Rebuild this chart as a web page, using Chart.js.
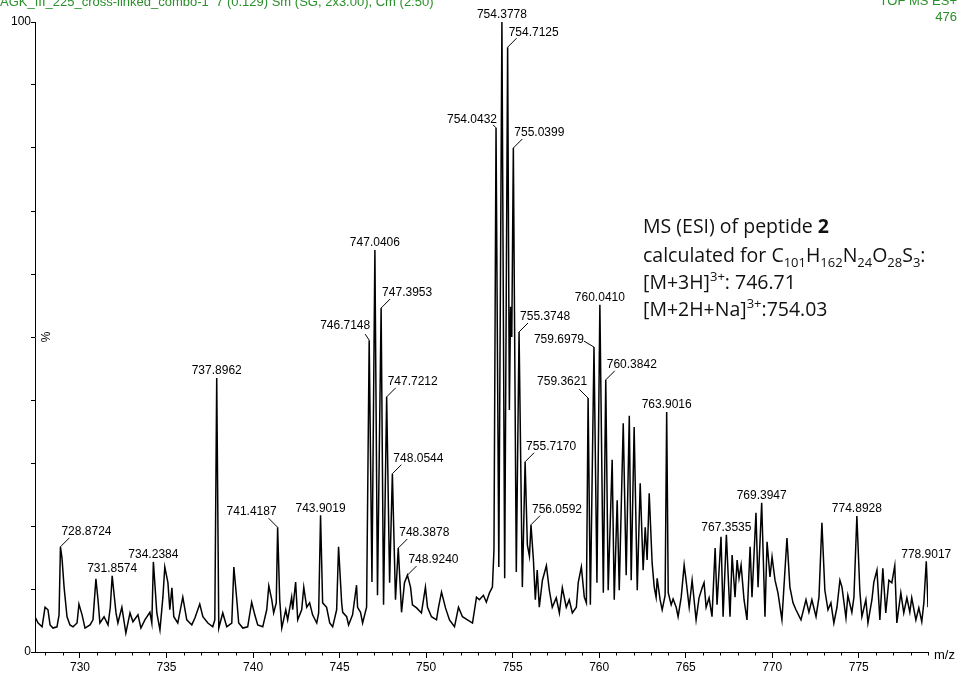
<!DOCTYPE html>
<html>
<head>
<meta charset="utf-8">
<script src="https://cdn.jsdelivr.net/npm/chart.js@4.4.1/dist/chart.umd.min.js"></script>
<style>
  body { margin: 0; background: #fff; }
  #wrap { position: relative; width: 961px; height: 673px; }
</style>
</head>
<body>
<div id="wrap"><canvas id="myChart" width="961" height="673"></canvas></div>
<script>
// spectrum (m/z, relative intensity %)
const mzValues = [
  727.40, 727.58, 727.81, 727.98, 728.15, 728.27, 728.44, 728.67, 728.79, 728.87,
  728.96, 729.08, 729.25, 729.42, 729.60, 729.83, 729.94, 730.12, 730.29, 730.58,
  730.75, 730.92, 731.04, 731.15, 731.39, 731.62, 731.75, 731.86, 732.08, 732.19,
  732.42, 732.65, 732.89, 733.06, 733.35, 733.52, 733.75, 734.04, 734.15, 734.24,
  734.44, 734.62, 734.79, 734.90, 735.08, 735.19, 735.31, 735.42, 735.65, 735.94,
  736.17, 736.46, 736.64, 736.92, 737.10, 737.39, 737.67, 737.79, 737.90, 738.02,
  738.25, 738.48, 738.77, 738.89, 739.06, 739.17, 739.41, 739.69, 739.92, 740.10,
  740.27, 740.56, 740.79, 740.91, 741.08, 741.19, 741.34, 741.42, 741.54, 741.66,
  741.89, 742.00, 742.23, 742.29, 742.46, 742.58, 742.81, 742.93, 743.10, 743.27,
  743.44, 743.68, 743.79, 743.90, 744.02, 744.25, 744.43, 744.60, 744.83, 744.94,
  745.12, 745.18, 745.41, 745.52, 745.75, 745.98, 746.04, 746.21, 746.33, 746.56,
  746.71, 746.87, 747.04, 747.19, 747.40, 747.54, 747.72, 747.89, 748.05, 748.23,
  748.39, 748.58, 748.75, 748.92, 749.10, 749.21, 749.45, 749.73, 749.96, 750.08,
  750.31, 750.60, 750.71, 750.89, 751.12, 751.35, 751.64, 751.87, 752.10, 752.39,
  752.68, 752.91, 753.08, 753.31, 753.48, 753.66, 753.83, 753.92, 754.04, 754.20,
  754.38, 754.54, 754.71, 754.81, 754.88, 754.95, 755.04, 755.21, 755.37, 755.56,
  755.72, 755.85, 755.97, 756.06, 756.20, 756.31, 756.42, 756.54, 756.72, 756.95,
  757.12, 757.29, 757.52, 757.70, 757.87, 758.10, 758.27, 758.45, 758.68, 758.79,
  758.97, 759.14, 759.26, 759.36, 759.49, 759.70, 759.87, 760.04, 760.24, 760.38,
  760.52, 760.75, 760.87, 761.04, 761.16, 761.39, 761.56, 761.74, 761.85, 762.02,
  762.20, 762.37, 762.54, 762.66, 762.77, 762.89, 763.06, 763.18, 763.29, 763.35,
  763.52, 763.64, 763.81, 763.90, 763.99, 764.16, 764.27, 764.45, 764.56, 764.74,
  764.91, 765.02, 765.20, 765.37, 765.60, 765.77, 765.95, 766.06, 766.18, 766.35,
  766.52, 766.70, 766.81, 767.04, 767.16, 767.35, 767.56, 767.68, 767.85, 767.97,
  768.08, 768.20, 768.37, 768.54, 768.72, 768.83, 769.06, 769.18, 769.39, 769.58,
  769.70, 769.87, 769.99, 770.16, 770.33, 770.56, 770.85, 771.02, 771.20, 771.37,
  771.66, 771.95, 772.12, 772.29, 772.53, 772.70, 772.87, 773.04, 773.22, 773.39,
  773.56, 773.74, 773.91, 774.03, 774.26, 774.37, 774.60, 774.72, 774.89, 775.06,
  775.18, 775.41, 775.53, 775.76, 775.87, 776.05, 776.22, 776.39, 776.56, 776.74,
  776.91, 777.08, 777.20, 777.43, 777.60, 777.78, 777.95, 778.06, 778.30, 778.47,
  778.64, 778.76, 778.90, 778.96, 779.00
];
const intensity = [
  5.6, 4.6, 4.0, 7.1, 6.7, 4.3, 3.8, 4.0, 5.9, 16.7,
  14.9, 10.3, 5.6, 4.3, 4.0, 4.6, 7.6, 5.9, 3.8, 4.3,
  5.1, 11.6, 8.3, 4.6, 5.6, 4.3, 7.1, 12.1, 6.2, 4.6,
  7.1, 3.0, 6.2, 4.8, 5.9, 3.8, 5.1, 6.3, 4.6, 14.3,
  6.2, 3.5, 8.7, 13.5, 11.0, 6.7, 10.2, 5.6, 4.6, 8.7,
  5.1, 4.3, 5.4, 7.6, 5.6, 4.6, 4.0, 5.1, 43.5, 3.8,
  6.2, 4.0, 4.6, 13.5, 8.3, 4.6, 3.8, 4.0, 7.9, 5.9,
  4.3, 4.0, 6.7, 10.5, 8.3, 6.2, 7.8, 19.8, 8.3, 3.8,
  6.7, 5.1, 8.7, 6.7, 11.1, 5.1, 6.7, 10.3, 7.1, 7.8,
  5.9, 4.6, 6.2, 21.7, 7.8, 7.1, 4.6, 4.0, 6.7, 16.7,
  7.8, 6.3, 5.6, 4.3, 5.9, 10.6, 7.1, 6.3, 4.6, 7.1,
  49.5, 11.1, 63.8, 9.0, 54.6, 7.5, 40.5, 11.0, 28.3, 8.3,
  16.5, 6.3, 11.0, 12.2, 10.3, 7.5, 7.0, 6.2, 10.3, 7.1,
  5.6, 5.1, 7.0, 9.5, 7.0, 5.1, 4.0, 7.1, 5.6, 5.1,
  4.6, 8.7, 8.3, 9.0, 7.9, 9.4, 10.3, 16.2, 83.2, 13.5,
  100, 11.7, 96.0, 38.4, 54.8, 50.0, 80.0, 12.7, 50.8, 10.3,
  30.2, 17.0, 15.2, 20.2, 14.6, 8.3, 13.0, 7.1, 11.4, 13.7,
  9.8, 7.1, 8.6, 6.2, 10.2, 7.1, 8.3, 6.2, 7.1, 11.0,
  13.5, 8.7, 7.8, 40.3, 7.5, 48.4, 11.0, 55.1, 9.4, 43.2,
  9.8, 30.5, 8.3, 24.1, 9.8, 36.3, 12.2, 37.5, 11.4, 35.7,
  9.8, 26.8, 13.0, 19.8, 14.6, 25.2, 14.1, 10.3, 8.7, 11.7,
  8.3, 6.7, 9.0, 38.1, 9.4, 7.5, 8.4, 7.1, 5.6, 8.7,
  13.8, 11.4, 7.1, 11.4, 5.1, 8.6, 10.2, 11.0, 7.1, 8.6,
  5.6, 16.5, 7.5, 18.3, 5.6, 18.6, 5.6, 15.4, 8.7, 14.6,
  11.7, 13.8, 8.3, 5.1, 16.7, 8.7, 22.1, 10.3, 23.7, 5.6,
  17.5, 11.9, 15.1, 11.4, 9.4, 5.1, 18.1, 10.3, 7.8, 6.7,
  5.1, 8.3, 6.3, 8.3, 5.6, 8.7, 20.5, 9.8, 6.7, 7.8,
  4.6, 7.1, 11.4, 10.3, 5.4, 9.0, 6.3, 8.7, 21.6, 9.8,
  5.6, 8.3, 4.6, 8.3, 11.1, 13.0, 5.1, 13.3, 6.2, 11.4,
  11.0, 13.7, 4.6, 9.4, 6.2, 8.6, 6.3, 8.6, 5.1, 7.0,
  4.8, 7.8, 14.4, 10.3, 7.1
];

const peakLabels = [
  "728.8724", "731.8574", "734.2384", "737.8962", "741.4187", "743.9019",
  "746.7148", "747.0406", "747.3953", "747.7212", "748.0544", "748.3878",
  "748.9240", "754.0432", "754.3778", "754.7125", "755.0399", "755.3748",
  "755.7170", "756.0592", "759.3621", "759.6979", "760.0410", "760.3842",
  "763.9016", "767.3535", "769.3947", "774.8928", "778.9017"
];
// where each label sits relative to its peak: c = above, r = up-right, l = up-left
const labelSide = [
  "r", "c", "c", "c", "l", "c",
  "l2", "c", "r", "r", "r", "r",
  "r", "l4", "c", "r", "r", "r",
  "r", "r", "l", "l3", "c", "r",
  "c", "c", "c", "c", "c"
];

const yTickLabels = [0, 100];
const xMin = 727.4, xMax = 779.0;

const points = mzValues.map((m, i) => ({ x: m, y: intensity[i] }));

const green = "#2a8f2a";
const labelFont = "12px 'Liberation Sans', Arial, sans-serif";

function findPeak(v) {
  let best = -1;
  for (let i = 0; i < mzValues.length; i++) {
    if (Math.abs(mzValues[i] - v) < 0.06) {
      if (best < 0 || intensity[i] > intensity[best]) best = i;
    }
  }
  return best;
}

function drawRich(ctx, x, y, parts) {
  const base = 19.5;
  for (const p of parts) {
    let size = base, dy = 0, weight = "normal";
    if (p.s === "sub") { size = 13; dy = 5; }
    if (p.s === "sup") { size = 13; dy = -8; }
    if (p.s === "b") { weight = "bold"; }
    ctx.font = weight + " " + size + "px 'Open Sans', 'Noto Sans', sans-serif";
    ctx.fillText(p.t, x, y + dy);
    x += ctx.measureText(p.t).width;
  }
}

const spectrumPlugin = {
  id: "spectrumExtras",
  afterDraw(chart) {
    const ctx = chart.ctx;
    const xs = chart.scales.x, ys = chart.scales.y;
    ctx.save();

    // minor ticks on m/z axis
    ctx.strokeStyle = "#000";
    ctx.lineWidth = 1;
    const yb = Math.round(ys.getPixelForValue(0)) + 0.5;
    for (let v = Math.ceil(xMin); v <= xMax; v++) {
      if (v % 5 === 0) continue;
      const px = Math.round(xs.getPixelForValue(v)) + 0.5;
      ctx.beginPath();
      ctx.moveTo(px, yb);
      ctx.lineTo(px, yb + 3);
      ctx.stroke();
    }

    // peak labels
    ctx.font = labelFont;
    ctx.fillStyle = "#000";
    ctx.textBaseline = "middle";
    peakLabels.forEach((lab, k) => {
      const i = findPeak(parseFloat(lab));
      if (i < 0) return;
      const px = xs.getPixelForValue(mzValues[i]);
      const py = ys.getPixelForValue(intensity[i]);
      const side = labelSide[k];
      ctx.beginPath();
      if (side === "c") {
        ctx.textAlign = "center";
        ctx.fillText(lab, px, py - 7);
      } else if (side === "r") {
        ctx.moveTo(px, py);
        ctx.lineTo(px + 9, py - 9);
        ctx.stroke();
        ctx.textAlign = "left";
        ctx.fillText(lab, px + 1, py - 15);
      } else if (side === "l") {
        ctx.moveTo(px, py);
        ctx.lineTo(px - 9, py - 9);
        ctx.stroke();
        ctx.textAlign = "right";
        ctx.fillText(lab, px - 1, py - 16);
      } else if (side === "l2") {
        ctx.moveTo(px, py);
        ctx.lineTo(px - 4, py - 6);
        ctx.stroke();
        ctx.textAlign = "right";
        ctx.fillText(lab, px + 1, py - 14);
      } else if (side === "l3") {
        ctx.moveTo(px, py);
        ctx.lineTo(px - 10, py - 6);
        ctx.stroke();
        ctx.textAlign = "right";
        ctx.fillText(lab, px - 10, py - 7);
      } else if (side === "l4") {
        ctx.moveTo(px, py);
        ctx.lineTo(px - 3, py - 3);
        ctx.stroke();
        ctx.textAlign = "right";
        ctx.fillText(lab, px + 1, py - 8);
      }
    });

    // axis captions
    ctx.textAlign = "center";
    ctx.save();
    ctx.translate(47, ys.getPixelForValue(50));
    ctx.rotate(-Math.PI / 2);
    ctx.fillText("%", 0, 0);
    ctx.restore();
    ctx.font = "13px 'Liberation Sans', Arial, sans-serif";
    ctx.textAlign = "left";
    ctx.fillText("m/z", 934, 655);

    // instrument header (cut off at the top like the original)
    ctx.fillStyle = green;
    ctx.font = "13px 'Liberation Sans', Arial, sans-serif";
    ctx.textBaseline = "alphabetic";
    ctx.fillText("AGK_III_225_cross-linked_combo-1  7 (0.129) Sm (SG, 2x3.00), Cm (2:50)", 0, 6);
    ctx.textAlign = "right";
    ctx.fillText("TOF MS ES+", 957, 5);
    ctx.fillText("476", 957, 21);

    // compound annotation
    ctx.fillStyle = "#111";
    ctx.textAlign = "left";
    drawRich(ctx, 643, 233, [{ t: "MS (ESI) of peptide " }, { t: "2", s: "b" }]);
    drawRich(ctx, 643, 262, [
      { t: "calculated for C" }, { t: "101", s: "sub" }, { t: "H" }, { t: "162", s: "sub" },
      { t: "N" }, { t: "24", s: "sub" }, { t: "O" }, { t: "28", s: "sub" },
      { t: "S" }, { t: "3", s: "sub" }, { t: ":" }
    ]);
    drawRich(ctx, 643, 289, [{ t: "[M+3H]" }, { t: "3+", s: "sup" }, { t: ": 746.71" }]);
    drawRich(ctx, 643, 316, [{ t: "[M+2H+Na]" }, { t: "3+", s: "sup" }, { t: ":754.03" }]);

    ctx.restore();
  }
};

const ctx = document.getElementById("myChart");
new Chart(ctx, {
  type: "line",
  data: {
    datasets: [{
      data: points,
      borderColor: "#000",
      borderWidth: 1.5,
      pointRadius: 0,
      tension: 0,
      fill: false
    }]
  },
  options: {
    responsive: false,
    animation: false,
    layout: { padding: { top: 22, right: 33, left: 0, bottom: 0 } },
    plugins: {
      legend: { display: false },
      tooltip: { enabled: false }
    },
    scales: {
      x: {
        type: "linear",
        min: xMin,
        max: xMax,
        afterFit: (s) => { s.height = 21; },
        ticks: {
          stepSize: 5,
          includeBounds: false,
          autoSkip: false,
          maxRotation: 0,
          padding: 2,
          color: "#000",
          font: { family: "'Liberation Sans', Arial, sans-serif", size: 12 }
        },
        grid: { drawOnChartArea: false, drawTicks: true, tickLength: 6, color: "#000", tickColor: "#000" },
        border: { display: true, color: "#000", width: 1 }
      },
      y: {
        min: 0,
        max: 100,
        afterFit: (s) => { s.width = 35; },
        ticks: {
          stepSize: 10,
          padding: 0,
          color: "#000",
          font: { family: "'Liberation Sans', Arial, sans-serif", size: 12 },
          callback: (v) => yTickLabels.includes(v) ? String(v) : ""
        },
        grid: { drawOnChartArea: false, drawTicks: true, tickLength: 4, color: "#000", tickColor: "#000" },
        border: { display: true, color: "#000", width: 1 }
      }
    }
  },
  plugins: [spectrumPlugin]
});
</script>
</body>
</html>
